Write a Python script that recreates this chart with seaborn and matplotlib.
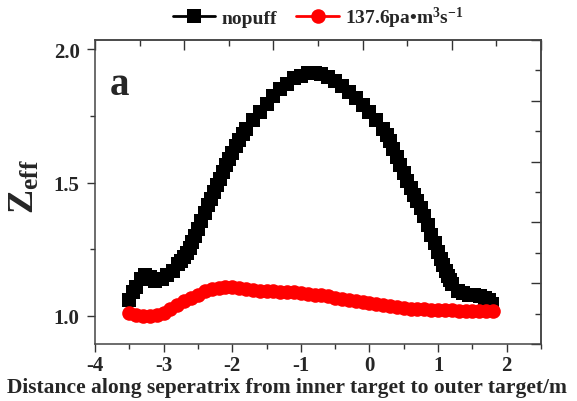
import numpy as np
import pandas as pd
import seaborn as sns
import matplotlib.pyplot as plt
from matplotlib.ticker import MultipleLocator, NullFormatter

# nopuff (black squares)
x_nopuff = [-3.50, -3.45, -3.40, -3.33, -3.27, -3.20, -3.12, -3.03, -2.95, -2.87,
            -2.79, -2.74, -2.70, -2.66, -2.62, -2.58, -2.54, -2.50, -2.45, -2.40,
            -2.36, -2.31, -2.27, -2.22, -2.18, -2.13, -2.09, -2.04, -2.00, -1.95,
            -1.90, -1.85, -1.80, -1.70, -1.60, -1.50, -1.40, -1.30, -1.20, -1.10,
            -1.00, -0.90, -0.80, -0.70, -0.60, -0.50, -0.40, -0.30, -0.20, -0.10,
            0.00, 0.10, 0.20, 0.25, 0.30, 0.35, 0.40, 0.45, 0.50, 0.55,
            0.60, 0.65, 0.70, 0.75, 0.80, 0.85, 0.90, 0.95, 1.00, 1.04,
            1.07, 1.11, 1.14, 1.18, 1.21, 1.29, 1.37, 1.45, 1.53, 1.61,
            1.68, 1.74, 1.78]
z_nopuff = [1.060, 1.090, 1.110, 1.140, 1.155, 1.145, 1.130, 1.140, 1.155, 1.170,
            1.195, 1.207, 1.220, 1.237, 1.255, 1.277, 1.300, 1.327, 1.355, 1.385,
            1.415, 1.440, 1.465, 1.490, 1.515, 1.540, 1.565, 1.588, 1.610, 1.635,
            1.660, 1.680, 1.700, 1.735, 1.765, 1.795, 1.825, 1.850, 1.870, 1.890,
            1.900, 1.910, 1.912, 1.907, 1.897, 1.882, 1.862, 1.840, 1.815, 1.790,
            1.765, 1.735, 1.700, 1.678, 1.655, 1.625, 1.595, 1.565, 1.535, 1.507,
            1.480, 1.455, 1.430, 1.403, 1.375, 1.340, 1.305, 1.272, 1.240, 1.213,
            1.190, 1.168, 1.150, 1.133, 1.120, 1.095, 1.085, 1.080, 1.078, 1.075,
            1.068, 1.058, 1.045]

# 137.6 pa m3/s puff (red circles)
x_puff = [-3.50, -3.40, -3.30, -3.20, -3.10, -3.00, -2.90, -2.80, -2.70, -2.60,
          -2.50, -2.40, -2.30, -2.20, -2.10, -2.00, -1.90, -1.80, -1.70, -1.60,
          -1.50, -1.40, -1.30, -1.20, -1.10, -1.00, -0.90, -0.80, -0.70, -0.60,
          -0.50, -0.40, -0.30, -0.20, -0.10, 0.00, 0.10, 0.20, 0.30, 0.40,
          0.50, 0.60, 0.70, 0.80, 0.90, 1.00, 1.10, 1.20, 1.30, 1.40,
          1.50, 1.60, 1.70, 1.80]
z_puff = [1.012, 1.004, 1.000, 1.000, 1.003, 1.012, 1.025, 1.040, 1.055, 1.068,
          1.080, 1.092, 1.100, 1.105, 1.108, 1.108, 1.105, 1.101, 1.097, 1.094,
          1.093, 1.092, 1.091, 1.090, 1.088, 1.086, 1.083, 1.080, 1.077, 1.073,
          1.069, 1.065, 1.061, 1.057, 1.053, 1.049, 1.045, 1.041, 1.037, 1.033,
          1.030, 1.028, 1.026, 1.025, 1.024, 1.023, 1.022, 1.021, 1.020, 1.019,
          1.019, 1.019, 1.019, 1.020]

sns.set_theme(style='ticks')
plt.rcParams['font.family'] = ['Liberation Serif', 'DejaVu Serif']
plt.rcParams['font.weight'] = 'bold'
plt.rcParams['axes.unicode_minus'] = False
plt.rcParams['mathtext.fontset'] = 'custom'
plt.rcParams['mathtext.rm'] = 'Liberation Serif:bold'
plt.rcParams['mathtext.it'] = 'Liberation Serif:bold'
plt.rcParams['mathtext.bf'] = 'Liberation Serif:bold'

fig = plt.figure(figsize=(5.77, 4.02), dpi=100)
ax = fig.add_axes([95/577, 57/402, 446/577, 304/402])

sns.lineplot(x=x_nopuff, y=z_nopuff, ax=ax, sort=False, errorbar=None,
             color='black', lw=2, marker='s', markersize=9.5,
             markeredgecolor='black', markeredgewidth=0, label='nopuff')
sns.lineplot(x=x_puff, y=z_puff, ax=ax, sort=False, errorbar=None,
             color='red', lw=2, marker='o', markersize=10.5,
             markeredgecolor='red', markeredgewidth=0,
             label='137.6pa\u2022m$^{3}$s$^{-1}$')

ylo, yhi = 0.895, 2.034
ax.set_xlim(-4, 2.5)
ax.set_ylim(ylo, yhi)
ax.xaxis.set_major_locator(MultipleLocator(1))
ax.xaxis.set_minor_locator(MultipleLocator(0.5))
ax.yaxis.set_major_locator(MultipleLocator(0.5))
ax.yaxis.set_minor_locator(MultipleLocator(0.25))
ax.yaxis.set_major_formatter(lambda v, p: '%.1f' % v)
ax.tick_params(which='major', direction='out', length=6, width=1, labelsize=15,
               color='#333', pad=2)
ax.tick_params(axis='y', which='major', pad=5)
ax.tick_params(which='minor', direction='out', length=3.5, width=1, color='#333')
for s in ax.spines.values():
    s.set_color('#444')
    s.set_linewidth(1.1)

# top / right frame ticks (own scale, no labels)
top = ax.secondary_xaxis('top', functions=(lambda v: (v + 4) / 1.3, lambda t: t * 1.3 - 4))
right = ax.secondary_yaxis('right', functions=(lambda v: (v - ylo) / (yhi - ylo) * 5,
                                               lambda t: ylo + t / 5 * (yhi - ylo)))
for sec, axis in ((top, top.xaxis), (right, right.yaxis)):
    axis.set_major_locator(MultipleLocator(1))
    axis.set_minor_locator(MultipleLocator(0.5))
    axis.set_major_formatter(NullFormatter())
    sec.tick_params(which='major', direction='in', length=7, width=1, color='#333')
    sec.tick_params(which='minor', direction='in', length=4, width=1, color='#333')
    for s in sec.spines.values():
        s.set_color('#444')
        s.set_linewidth(1.1)

ax.set_xlabel('Distance along seperatrix from inner target to outer target/m',
              fontsize=15.5, fontweight='bold')
ax.xaxis.set_label_coords(0.43, -0.11)
ax.set_ylabel('Z$_{\\mathrm{eff}}$', fontsize=26, fontweight='bold')
ax.yaxis.set_label_coords(-0.12, 0.52)

ax.text(0.054, 0.855, 'a', transform=ax.transAxes, fontsize=28,
        fontweight='bold', ha='center', va='center')

ax.legend(loc='center', bbox_to_anchor=(0.5, 1.075), ncol=2, frameon=False,
          fontsize=14, handlelength=2.2, columnspacing=1.0, handletextpad=0.3,
          borderaxespad=0)

fig.savefig('out.png', dpi=100)
